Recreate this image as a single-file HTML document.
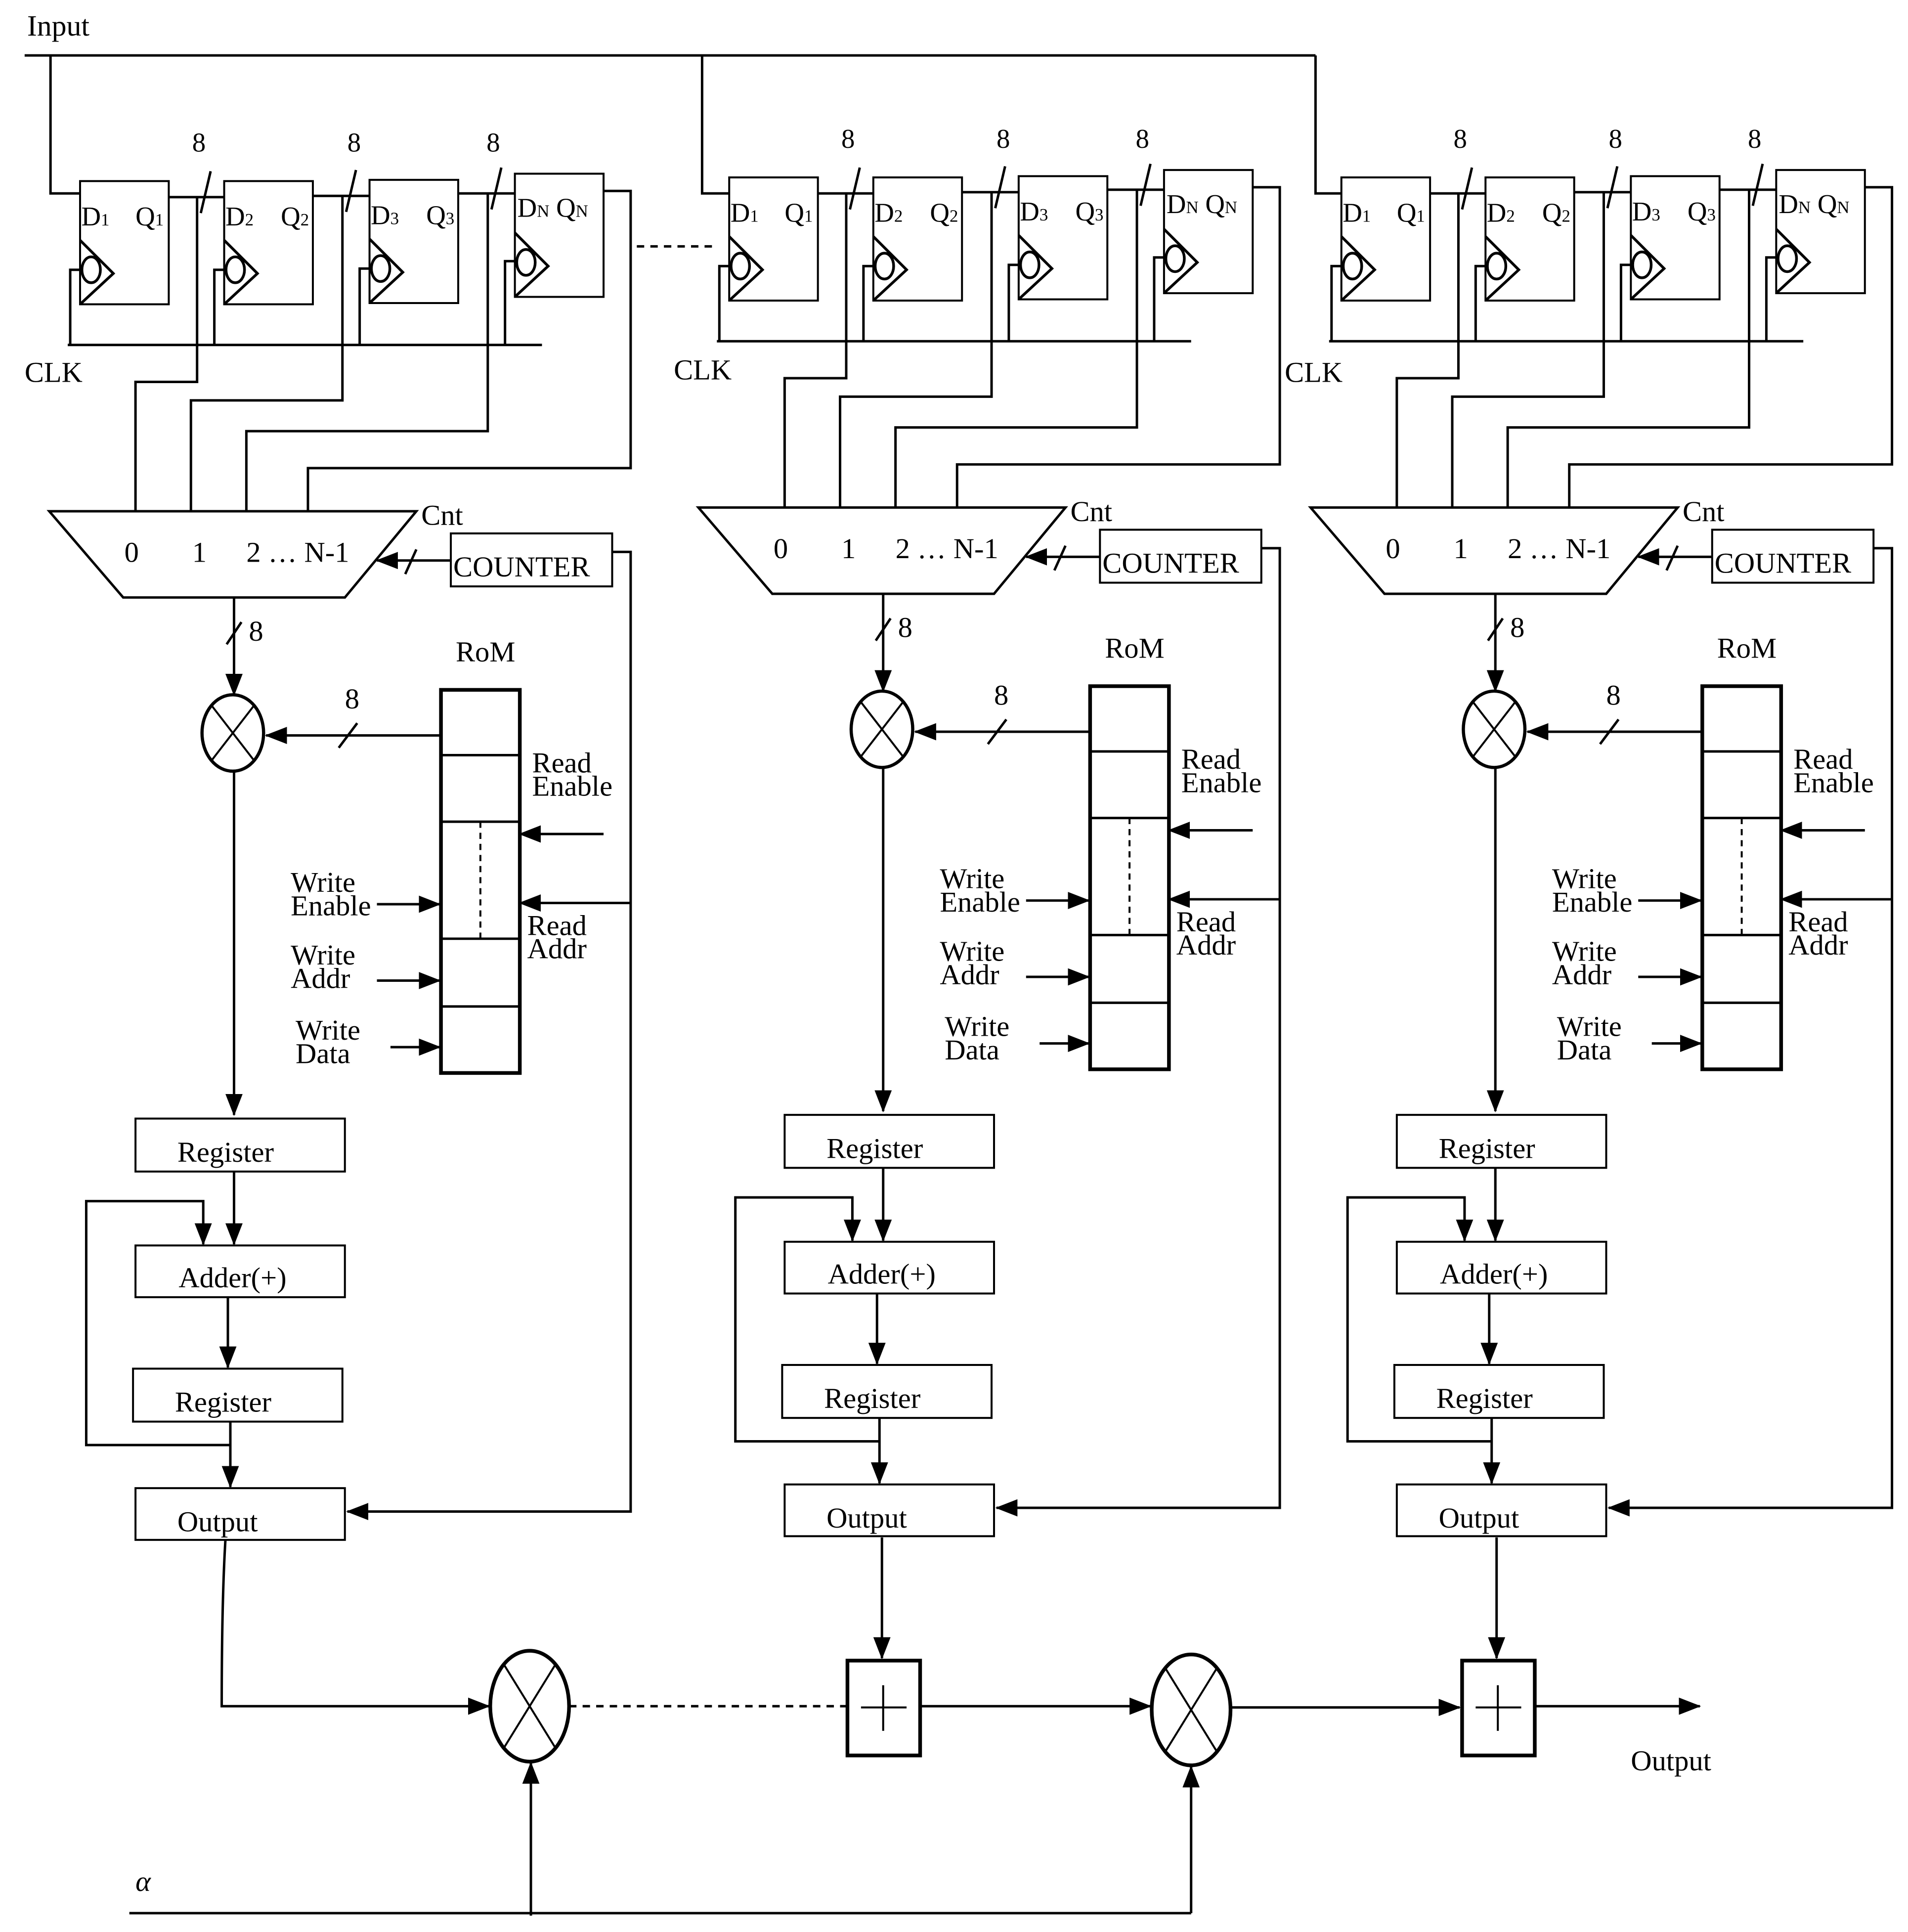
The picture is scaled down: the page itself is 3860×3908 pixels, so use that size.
<!DOCTYPE html>
<html><head><meta charset="utf-8"><style>
html,body{margin:0;padding:0;background:#fff}
svg{display:block}
text{font-family:"Liberation Serif",serif;fill:#000}
</style></head><body>
<svg xmlns="http://www.w3.org/2000/svg" xmlns:xlink="http://www.w3.org/1999/xlink" width="3860" height="3908" viewBox="0 0 1549 1568.3" preserveAspectRatio="none">
<defs>
<marker id="ab" markerWidth="18" markerHeight="14" refX="17" refY="7" orient="auto" markerUnits="userSpaceOnUse">
<path d="M0,0 L18,7 L0,14 z" fill="#000"/>
</marker>
<g id="ff">
<rect x="0" y="0" width="72" height="100" fill="#fff" stroke="#000" stroke-width="1.6"/>
<path d="M0,48 L27,75 L0,100" fill="none" stroke="#000" stroke-width="2.2"/>
<ellipse cx="9" cy="72" rx="7.5" ry="10.5" fill="none" stroke="#000" stroke-width="2.2"/>
</g>
<g id="blk" fill="none" stroke="#000" stroke-width="2">
<use xlink:href="#ff" x="65" y="147"/>
<use xlink:href="#ff" x="182" y="147"/>
<use xlink:href="#ff" x="300" y="146"/>
<use xlink:href="#ff" x="418" y="141"/>
<g stroke="none" font-size="22">
<text x="66" y="183">D<tspan font-size="14">1</tspan></text><text x="110" y="183">Q<tspan font-size="14">1</tspan></text>
<text x="183" y="183">D<tspan font-size="14">2</tspan></text><text x="228" y="183">Q<tspan font-size="14">2</tspan></text>
<text x="301" y="182">D<tspan font-size="14">3</tspan></text><text x="346" y="182">Q<tspan font-size="14">3</tspan></text>
<text x="420" y="176">D<tspan font-size="14">N</tspan> Q<tspan font-size="14">N</tspan></text>
<text x="156" y="123">8</text><text x="282" y="123">8</text><text x="395" y="123">8</text>
</g>
<path d="M137,160 H182 M254,159 H300 M372,157 H418 M490,155 H512 V380 H250 V415"/>
<path d="M163,173 L171,139 M281,172 L289,138 M399,170 L407,136"/>
<path d="M160,160 V310 H110 V415 M278,159 V325 H155 V415 M396,157 V350 H200 V415"/>
<path d="M55,280 H440 M57,280 V219 H65 M174,280 V219 H182 M292,280 V218 H300 M410,280 V212 H418"/>
<path d="M40,415 H338 L280,485 H100 Z"/>
<g stroke="none" font-size="23.5">
<text x="101" y="456">0</text><text x="156" y="456">1</text><text x="200" y="456">2 … N-1</text>
<text x="342" y="426">Cnt</text>
<text x="368" y="468">COUNTER</text>
<text x="202" y="520">8</text>
<text x="370" y="537">RoM</text>
<text x="280" y="575">8</text>
<text x="432" y="627">Read</text><text x="432" y="646">Enable</text>
<text x="428" y="759">Read</text><text x="428" y="778">Addr</text>
<text x="236" y="724">Write</text><text x="236" y="743">Enable</text>
<text x="236" y="783">Write</text><text x="236" y="802">Addr</text>
<text x="240" y="844">Write</text><text x="240" y="863">Data</text>
<text x="144" y="943">Register</text>
<text x="145" y="1045">Adder(+)</text>
<text x="142" y="1146">Register</text>
<text x="144" y="1243">Output</text>
</g>
<rect x="366" y="433" width="131" height="43" stroke-width="1.6"/>
<path d="M366,455 H306" marker-end="url(#ab)"/>
<path d="M329,466 L338,446"/>
<path d="M497,448 H512 V1227 H282" marker-end="url(#ab)"/>
<path d="M512,733 H422" marker-end="url(#ab)"/>
<path d="M490,677 H422" marker-end="url(#ab)"/>
<path d="M190,485 V564" marker-end="url(#ab)"/>
<path d="M184,523 L196,505"/>
<ellipse cx="189" cy="595" rx="25" ry="31" stroke-width="2.6"/>
<path d="M172,573 L206,617 M206,573 L172,617" stroke-width="1.6"/>
<path d="M358,597 H216" marker-end="url(#ab)"/>
<path d="M275,607 L290,587"/>
<rect x="358" y="560" width="64" height="311" stroke-width="3"/>
<path d="M358,613 H422 M358,667 H422 M358,762 H422 M358,817 H422"/>
<path d="M390,667 V762" stroke-dasharray="5,4" stroke-width="1.6"/>
<path d="M306,734 H357" marker-end="url(#ab)"/>
<path d="M306,796 H357" marker-end="url(#ab)"/>
<path d="M317,850 H357" marker-end="url(#ab)"/>
<path d="M190,626 V905" marker-end="url(#ab)"/>
<rect x="110" y="908" width="170" height="43" stroke-width="1.6"/>
<path d="M190,951 V1010" marker-end="url(#ab)"/>
<rect x="110" y="1011" width="170" height="42" stroke-width="1.6"/>
<path d="M187,1173 H70 V975 H165 V1010" marker-end="url(#ab)"/>
<path d="M185,1053 V1110" marker-end="url(#ab)"/>
<rect x="108" y="1111" width="170" height="43" stroke-width="1.6"/>
<path d="M187,1154 V1207" marker-end="url(#ab)"/>
<rect x="110" y="1208" width="170" height="42" stroke-width="1.6"/>
</g>
</defs>
<rect width="1560" height="1580" fill="#fff"/>
<text x="22" y="29" font-size="24">Input</text>
<g fill="none" stroke="#000" stroke-width="2">
<path d="M20,45 H1068 M41,45 V157 H65 M570,45 V157 H592 M1068,45 V157 H1089"/>
<path d="M517,200 H580" stroke-dasharray="6,5"/>
</g>
<use xlink:href="#blk"/>
<use xlink:href="#blk" transform="translate(527,-3)"/>
<use xlink:href="#blk" transform="translate(1024,-3)"/>
<g font-size="23.5">
<text x="20" y="310">CLK</text>
<text x="547" y="308">CLK</text>
<text x="1043" y="310">CLK</text>
<text x="1324" y="1437">Output</text>
<text x="110" y="1535" font-style="italic">α</text>
</g>
<g fill="none" stroke="#000" stroke-width="2">
<path d="M183,1250 Q180,1300 180,1385 H397" marker-end="url(#ab)"/>
<ellipse cx="430" cy="1385" rx="32" ry="45" stroke-width="3"/>
<path d="M409,1351 L451,1419 M451,1351 L409,1419" stroke-width="1.6"/>
<path d="M462,1385 H688" stroke-dasharray="6,5"/>
<path d="M716,1248 V1346" marker-end="url(#ab)"/>
<rect x="688" y="1348" width="59" height="77" stroke-width="3"/>
<path d="M717,1368 V1405 M699,1386 H736" stroke-width="1.6"/>
<path d="M747,1385 H934" marker-end="url(#ab)"/>
<ellipse cx="967" cy="1388" rx="32" ry="45" stroke-width="3"/>
<path d="M946,1354 L988,1422 M988,1354 L946,1422" stroke-width="1.6"/>
<path d="M1000,1386 H1185" marker-end="url(#ab)"/>
<path d="M1215,1248 V1346" marker-end="url(#ab)"/>
<rect x="1187" y="1348" width="59" height="77" stroke-width="3"/>
<path d="M1216,1368 V1405 M1198,1386 H1235" stroke-width="1.6"/>
<path d="M1246,1385 H1380" marker-end="url(#ab)"/>
<path d="M105,1553 H967"/>
<path d="M431,1555 V1431" marker-end="url(#ab)"/>
<path d="M967,1553 V1434" marker-end="url(#ab)"/>
</g>
</svg>
</body></html>
